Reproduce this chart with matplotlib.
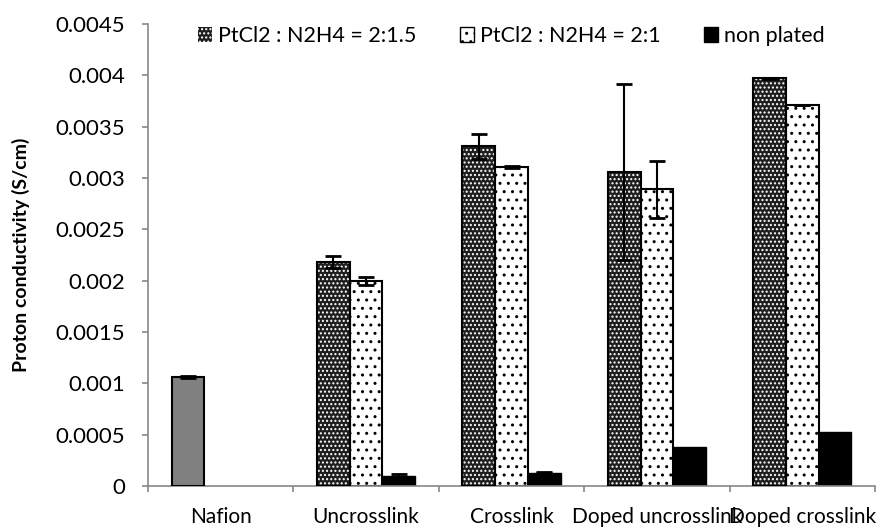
import matplotlib
matplotlib.use("Agg")
import matplotlib.pyplot as plt
import numpy as np
from matplotlib.patches import Patch

categories = ["Nafion", "Uncrosslink", "Crosslink", "Doped uncrosslink", "Doped crosslink"]
series_names = ["PtCl2 : N2H4 = 2:1.5", "PtCl2 : N2H4 = 2:1", "non plated"]
s1 = [0.00106, 0.00218, 0.00331, 0.00306, 0.00397]
s1_err = [0.00001, 0.00006, 0.00012, 0.00086, 0.000005]
s2 = [0.0, 0.00200, 0.00311, 0.00289, 0.00371]
s2_err = [0.0, 0.00004, 0.00001, 0.00028, 0.0]
s3 = [0.0, 0.00010, 0.00013, 0.00038, 0.00053]
s3_err = [0.0, 0.00002, 0.000005, 0.0, 0.0]
yticks = [0, 0.0005, 0.001, 0.0015, 0.002, 0.0025, 0.003, 0.0035, 0.004, 0.0045]
ytick_labels = ["0", "0.0005", "0.001", "0.0015", "0.002", "0.0025", "0.003", "0.0035", "0.004", "0.0045"]
ylabel = "Proton conductivity (S/cm)"

plt.rcParams['font.family'] = ['Lato', 'DejaVu Sans']
plt.rcParams['hatch.linewidth'] = 1.0

fig = plt.figure(figsize=(8.81, 5.29), dpi=100)
ax = fig.add_axes([0.168, 0.0813, 0.8252, 0.8733])

x = np.arange(len(categories))
w = 0.225

# series 1: dark with white dots
b1 = ax.bar(x - w, s1, w, color='#1e1e1e', hatch='....', edgecolor='white', linewidth=0, zorder=2)
ax.bar(x - w, s1, w, fill=False, edgecolor='black', linewidth=1.5, zorder=3)
# Nafion bar in grey
b1[0].set_facecolor('#808080')
b1[0].set_hatch('')
# series 2: white with black dots
s2_plot = [v if v > 0 else np.nan for v in s2]
ax.bar(x, s2_plot, w, color='white', hatch='..', edgecolor='black', linewidth=1.5, zorder=2)
# series 3: black
s3_plot = [v if v > 0 else np.nan for v in s3]
ax.bar(x + w, s3_plot, w, color='black', edgecolor='black', linewidth=1.0, zorder=2)

ek = dict(fmt='none', ecolor='black', elinewidth=1.5, capsize=6, capthick=2, zorder=4)
ax.errorbar(x - w, s1, yerr=s1_err, **ek)
m2 = np.array(s2) > 0
ax.errorbar(x[m2], np.array(s2)[m2], yerr=np.array(s2_err)[m2], **ek)
m3 = np.array(s3_err) > 0
ax.errorbar(x[m3] + w, np.array(s3)[m3], yerr=np.array(s3_err)[m3], **ek)

ax.set_xlim(-0.5, len(categories) - 0.5)
ax.set_ylim(0, 0.0045)
ax.set_yticks(yticks)
ax.set_yticklabels(ytick_labels)
ax.set_xticks(x)
ax.set_xticklabels(categories)
ax.set_xticks(np.arange(len(categories) + 1) - 0.5, minor=True)
ax.tick_params(axis='x', which='major', length=0, pad=15, labelsize=15)
ax.tick_params(axis='x', which='minor', length=4.5, color='#888888', width=1.2)
ax.tick_params(axis='y', length=4.5, color='#888888', width=1.2, labelsize=16, pad=12)
for s in ['top', 'right']:
    ax.spines[s].set_visible(False)
for s in ['left', 'bottom']:
    ax.spines[s].set_color('#888888')
    ax.spines[s].set_linewidth(1.2)
ax.set_ylabel(ylabel, fontsize=14, fontweight='bold', labelpad=18)

handles = [Patch(facecolor='#1e1e1e', hatch='....', edgecolor='white', linewidth=0),
           Patch(facecolor='white', hatch='..', edgecolor='black'),
           Patch(facecolor='black', edgecolor='black')]
ax.legend(handles, series_names, loc='center', bbox_to_anchor=(0.50, 0.974), ncol=3,
          frameon=False, fontsize=15.5, handlelength=0.65, handleheight=0.65,
          handletextpad=0.3, columnspacing=2.0, borderpad=0)

fig.savefig('out.png', dpi=100)
